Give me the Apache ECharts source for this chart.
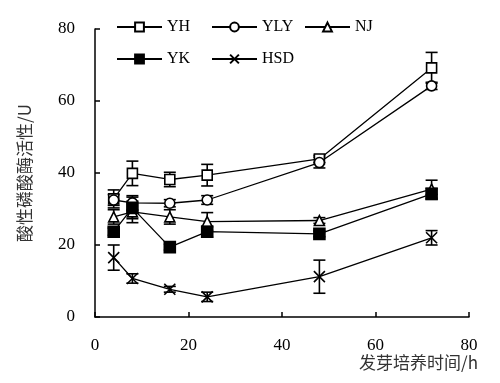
<!DOCTYPE html>
<html><head><meta charset="utf-8">
<script src="https://cdn.jsdelivr.net/npm/echarts@6/dist/echarts.min.js"></script>
<style>html,body{margin:0;padding:0;background:#fff}#c{width:500px;height:383px}</style>
</head><body><div id="c"></div>
<script>
const hours = [4, 8, 16, 24, 48, 72];
const xTicks = [0, 20, 40, 60, 80];
const yTicks = [0, 20, 40, 60, 80];
const seriesNames = ['YH', 'YLY', 'NJ', 'YK', 'HSD'];
const YH  = [32.8, 39.9, 38.2, 39.4, 43.9, 69.2];
const YLY = [32.5, 31.7, 31.6, 32.5, 42.9, 64.2];
const NJ  = [27.8, 29.2, 27.8, 26.5, 26.8, 35.5];
const YK  = [23.7, 30.3, 19.4, 23.7, 23.1, 34.2];
const HSD = [16.5, 10.7, 7.7, 5.6, 11.2, 22.0];
const YH_err  = [2.5, 3.4, 2.0, 3.0, 1.0, 4.3];
const YLY_err = [1.5, 2.0, 1.0, 1.2, 1.5, 1.0];
const NJ_err  = [2.0, 3.0, 2.0, 2.5, 0.8, 2.5];
const YK_err  = [1.0, 3.0, 0.8, 1.5, 0.8, 1.5];
const HSD_err = [3.5, 1.3, 0.8, 1.3, 4.6, 2.0];

const vals = [YH, YLY, NJ, YK, HSD];
const errs = [YH_err, YLY_err, NJ_err, YK_err, HSD_err];
const symbols = ['rect', 'circle', 'triangle', 'rect', 'path://M0,0L10,10M10,0L0,10'];
const symSizes = [10, 10, 10, 11, 11];
const fills = ['#fff', '#fff', '#fff', '#000', '#000'];
const serif = '"Liberation Serif","Times New Roman",serif';
const cjk = '"Noto Sans CJK SC","Liberation Serif",sans-serif';

const series = [];
seriesNames.forEach((n, i) => {
  series.push({
    type: 'custom', name: n + '_err', z: 1, silent: true,
    data: hours.map((h, k) => [h, vals[i][k] - errs[i][k], vals[i][k] + errs[i][k]]),
    renderItem: function (params, api) {
      const lo = api.coord([api.value(0), api.value(1)]);
      const hi = api.coord([api.value(0), api.value(2)]);
      const w = 6;
      const st = { stroke: '#000', lineWidth: 1.6 };
      return { type: 'group', children: [
        { type: 'line', shape: { x1: lo[0], y1: lo[1], x2: hi[0], y2: hi[1] }, style: st },
        { type: 'line', shape: { x1: lo[0] - w, y1: lo[1], x2: lo[0] + w, y2: lo[1] }, style: st },
        { type: 'line', shape: { x1: hi[0] - w, y1: hi[1], x2: hi[0] + w, y2: hi[1] }, style: st }
      ]};
    }
  });
});
seriesNames.forEach((n, i) => {
  series.push({
    type: 'line', name: n, z: 3,
    data: hours.map((h, k) => [h, vals[i][k]]),
    symbol: symbols[i], symbolSize: symSizes[i], showAllSymbol: true,
    lineStyle: { color: '#000', width: 1.3 },
    itemStyle: { color: fills[i], borderColor: '#000', borderWidth: 1.6 },
    emphasis: { disabled: true }
  });
});

const legendPos = [[116, 19], [211, 19], [304, 19], [116, 51], [211, 51]];
const legends = seriesNames.map((n, i) => ({
  data: [n], left: legendPos[i][0], top: legendPos[i][1],
  itemWidth: 45, itemHeight: 11, itemGap: 0, padding: 0,
  selectedMode: false,
  textStyle: { fontFamily: serif, fontSize: 16, color: '#000' }
}));

const chart = echarts.init(document.getElementById('c'), null, { renderer: 'canvas' });
chart.setOption({
  animation: false,
  backgroundColor: '#fff',
  legend: legends,
  grid: { left: 95, right: 31, top: 29, bottom: 66, containLabel: false },
  xAxis: {
    type: 'value', min: xTicks[0], max: xTicks[xTicks.length - 1], interval: 20,
    name: '发芽培养时间/h', nameLocation: 'end', nameGap: 9,
    nameTextStyle: { fontFamily: cjk, fontSize: 17, color: '#333', align: 'right', verticalAlign: 'top', padding: [37, 0, 0, 0] },
    axisLine: { lineStyle: { color: '#000', width: 1.5 } },
    axisTick: { inside: true, length: 5, lineStyle: { color: '#000', width: 1.5 } },
    axisLabel: { margin: 20, fontFamily: serif, fontSize: 17, color: '#000' },
    splitLine: { show: false }
  },
  yAxis: {
    type: 'value', min: yTicks[0], max: yTicks[yTicks.length - 1], interval: 20,
    name: '酸性磷酸酶活性/U', nameLocation: 'middle', nameGap: 62,
    nameTextStyle: { fontFamily: cjk, fontSize: 17, color: '#333' },
    axisLine: { show: true, lineStyle: { color: '#000', width: 1.5 } },
    axisTick: { show: true, inside: true, length: 5, lineStyle: { color: '#000', width: 1.5 } },
    axisLabel: { margin: 20, fontFamily: serif, fontSize: 17, color: '#000' },
    splitLine: { show: false }
  },
  series: series
});
</script></body></html>
